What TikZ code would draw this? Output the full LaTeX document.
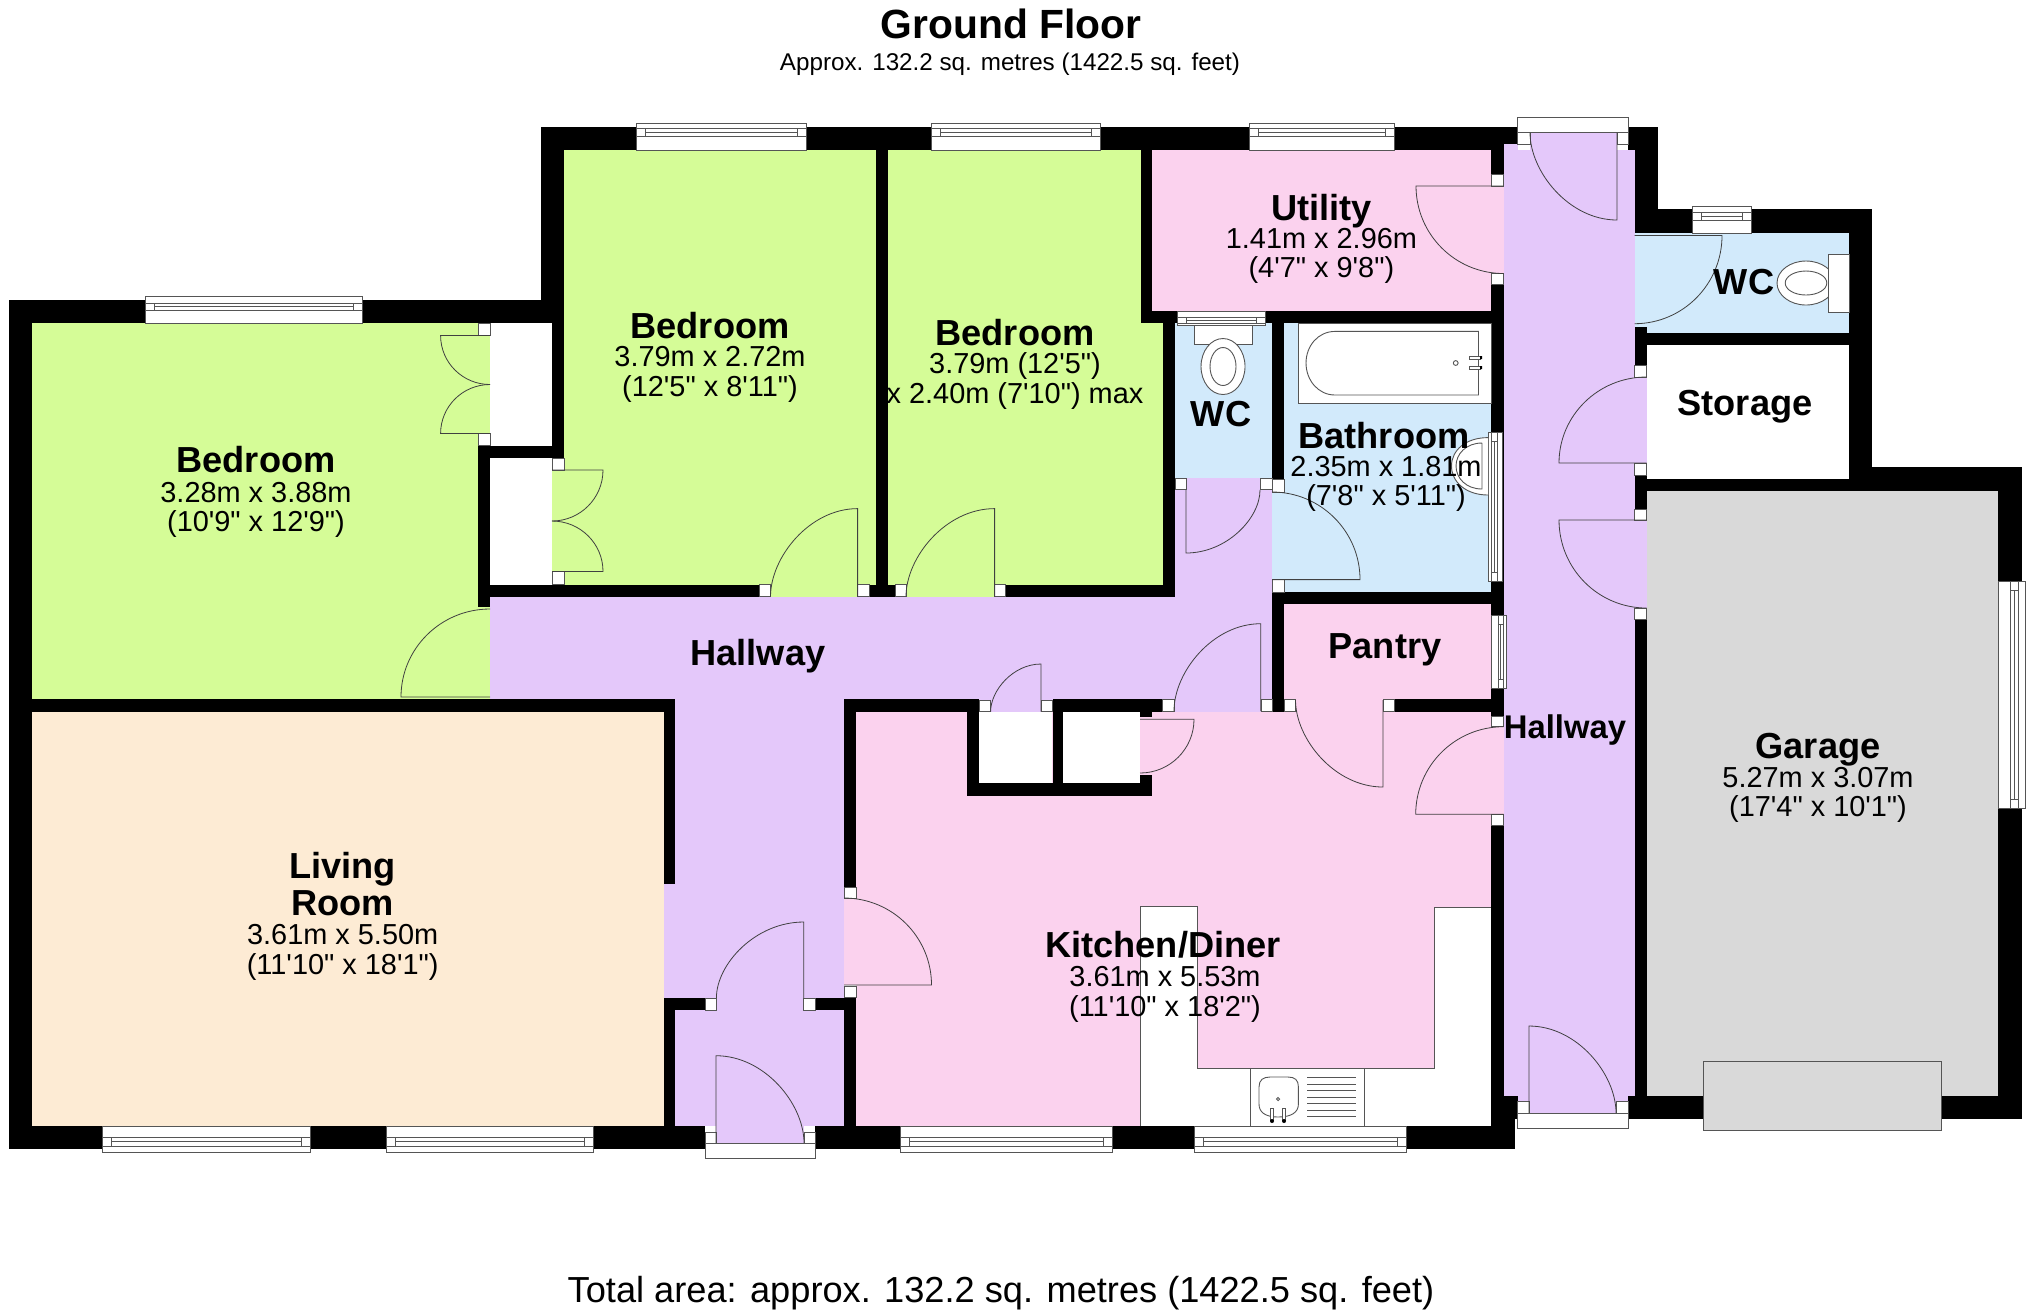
\documentclass[tikz,border=0pt]{standalone}
\usepackage{fontspec}
\newfontfamily\lib{Liberation Sans}
\definecolor{cGreen}{HTML}{D5FC97}
\definecolor{cCream}{HTML}{FDEBD4}
\definecolor{cHall}{HTML}{E4C8FA}
\definecolor{cPink}{HTML}{FBD2EE}
\definecolor{cBlue}{HTML}{D2EAFB}
\definecolor{cGrey}{HTML}{D9D9D9}
\definecolor{cLine}{HTML}{555555}
\tikzset{
  thinline/.style={draw=cLine,line width=0.45pt},
  door/.style={draw=black!75,line width=0.4pt},
  rname/.style={font=\lib\bfseries\fontsize{18.1}{20}\selectfont,anchor=base,inner sep=0pt,yshift=-1pt},
  rdim/.style={font=\lib\fontsize{14.45}{16}\selectfont,anchor=base,inner sep=0pt,yshift=-0.5pt},
}
% horizontal leaf: hinge (#1,#2), leaf end x #3, closed end y #4
\newcommand\doorH[4]{\draw[door] (#1,#2) -- (#3,#2) .. controls (#3,{#2+0.5523*(#4-#2)}) and ({#1+0.5523*(#3-#1)},#4) .. (#1,#4);}
% vertical leaf: hinge (#1,#2), leaf end y #3, closed end x #4
\newcommand\doorV[4]{\draw[door] (#1,#2) -- (#1,#3) .. controls ({#1+0.5523*(#4-#1)},#3) and (#4,{#2+0.4477*(#3-#2)}) .. (#4,#2);}
% window along x: x1,x2,ytop,ybot,band1,band2
\newcommand\winH[6]{\draw[thinline,fill=white] (#1,#3) rectangle (#2,#4);
  \draw[thinline] (#1,#5) -- (#2,#5) (#1,#6) -- (#2,#6)
    ({#1+9},#5) -- ({#1+9},#6) ({#2-9},#5) -- ({#2-9},#6)
    ({#1+9},{(#5+#6)/2}) -- ({#2-9},{(#5+#6)/2});}
% window along y: y1,y2,xleft,xright,band1,band2
\newcommand\winV[6]{\draw[thinline,fill=white] (#3,#1) rectangle (#4,#2);
  \draw[thinline] (#5,#1) -- (#5,#2) (#6,#1) -- (#6,#2)
    (#5,{#1+9}) -- (#6,{#1+9}) (#5,{#2-9}) -- (#6,{#2-9})
    ({(#5+#6)/2},{#1+9}) -- ({(#5+#6)/2},{#2-9});}
\begin{document}
\begin{tikzpicture}[x=0.5pt,y=-0.5pt]
\useasboundingbox (0,0) rectangle (2032,1314);
\fill[white] (0,0) rectangle (2032,1314);
% ---- floors
\foreach \a/\b/\c/\d in {32/323.3/490/699, 564/150/876/597, 552/458/564/585, 888/150/1141/323.3, 888/323/1163/597}
  \fill[cGreen] (\a,\b) rectangle (\c,\d);
\fill[cCream] (32,711.7) rectangle (664,1126);
\foreach \a/\b/\c/\d in {490/596.7/1272/699, 1175/477.5/1272/600, 664/699/844/1000, 675/1000/844/1126, 716/1126/804/1143,
    844/699/1272/711.7, 1503.5/150/1634.5/1096, 1518/1096/1628/1113, 1530/132.6/1617/150,
    1634/377/1646.5/463, 1634/520/1646.5/608}
  \fill[cHall] (\a,\b) rectangle (\c,\d);
\foreach \a/\b/\c/\d in {1152/150/1491.5/311.4, 1491/186/1503.5/273.5, 1284/604/1491.5/711.7, 856/711.7/1491.5/1126,
    844/898/856/985, 1491/726/1503.5/814, 1140/716/1152/775}
  \fill[cPink] (\a,\b) rectangle (\c,\d);
\foreach \a/\b/\c/\d in {1175/323/1272/477.5, 1272/492/1284/580, 1284/323/1491.5/592, 1634.5/233/1849/333}
  \fill[cBlue] (\a,\b) rectangle (\c,\d);
\fill[cGrey] (1646.5,490.6) rectangle (1998,1096);
% ---- kitchen units
\draw[thinline,fill=white] (1140,1126) -- (1140,906) -- (1197,906) -- (1197,1068) -- (1434,1068) -- (1434,907.7) -- (1491,907.7) -- (1491,1126) -- cycle;
\draw[thinline] (1250,1068) -- (1250,1126) (1364,1068) -- (1364,1126);
\draw[thinline] (1259,1087) .. controls (1259,1080) and (1263,1077) .. (1270,1077) -- (1288,1077) .. controls (1295,1077) and (1298.4,1080) .. (1298.4,1087) -- (1298.4,1104) .. controls (1298.4,1112) and (1292,1117) .. (1278,1117) .. controls (1265,1117) and (1259,1112) .. (1259,1104) -- cycle;
\draw[thinline] (1278,1099) circle (1.6);
\foreach \y in {1077,1084,1090.5,1097,1103.5,1110,1116} \draw[thinline] (1307,\y) -- (1356,\y);
\draw[thinline,fill=white] (1270.5,1108) rectangle (1273.5,1120);
\draw[thinline,fill=white] (1282.5,1108) rectangle (1285.5,1120);
\fill[black] (1272,1121) circle (2) (1284,1121) circle (2);
% ---- closets, store
\foreach \a/\b/\c/\d in {490/323.3/552/446, 490/458/552/585, 979/711.7/1052/783, 1063/711.7/1140/783, 1646.5/345/1849/479}
  \fill[white] (\a,\b) rectangle (\c,\d);
% ---- walls
\foreach \a/\b/\c/\d in {
  9/300/32/1149, 9/300/564/323.3, 541/127/564/323.3, 541/127/1517.6/150, 1628/127/1658/150,
  1634.5/127/1658/233, 1634.5/209/1872/233, 1849/209/1872/490.6, 1634.5/333/1849/345,
  1634.5/326.5/1646.5/365, 1634.5/475.5/1646.5/509, 1634.5/479/2022/490.6, 1849/467/2022/490.6,
  1998/467/2022/1119, 1628/1096/2022/1119, 1634.5/619/1646.5/1096,
  478/445/490/607, 478/445.7/564/458.4, 552/323/564/458.4, 478/584.5/759/596.7,
  869/584.5/895.5/596.7, 1005/584.5/1175/596.7, 876/150/888/585,
  1140.6/150/1151.8/323.3, 1140.6/311.4/1503.5/323.3, 1163/311.4/1175/596.7,
  1272/311/1284/479.6, 1272/592/1491.5/604, 1272/580/1284/711.7,
  1491.4/150/1503.5/174.7, 1491.4/284.5/1503.5/716, 1491.4/825/1503.5/1149,
  1491/1096/1518/1119, 1491/1119/1514.6/1149,
  9/699/675/711.7, 663.6/699/675/884, 663.6/998/705/1010, 815/998/856/1010, 663.6/998/675/1126,
  844/699/856/887, 844/997/856/1126, 9/1126/705/1149, 815/1126/1514.6/1149,
  844/699/979/711.7, 967/699/979/796, 1052.7/699/1063/783, 1052.7/699/1162/711.7, 967/783/1152/796,
  1140/710/1152/716.7, 1140/775/1152/796, 1394/699/1503.5/711.7}
  \fill[black] (\a,\b) rectangle (\c,\d);
\fill[cHall] (1503.5,144) rectangle (1517.6,150);
\fill[black] (1503.5,127) rectangle (1517.6,144);
\fill[cHall] (1530,132.6) rectangle (1617,150);
% ---- door posts
\foreach \a/\b/\c/\d in {
  478/323.7/490/335.5, 478/433.5/490/445, 552/458.4/564/470, 552/571.4/564/584.5,
  759/584.5/770.5/596.7, 857.6/584.5/869.6/596.7, 895.5/584.5/906/596.7, 994.6/584.5/1005/596.7,
  1175/478.8/1186/489.8, 1260/478.8/1272/489.8, 1272/479.6/1284/492, 1272/579.6/1284/592,
  1491.4/174.7/1503.5/186, 1491.4/273.5/1503.5/284.5, 1517.6/132.6/1530/144, 1617/132.6/1628/144,
  1634.5/365/1646.5/377, 1634.5/463/1646.5/475.5, 1634.5/509/1646.5/520, 1634.5/608/1646.5/619,
  1491.4/716/1503.5/726.7, 1491.4/814/1503.5/825,
  1383/699/1394/711.7, 1284/699/1295.5/711.7, 1261/699/1272/711.7, 1162/699/1174/711.7,
  979/700/990.6/711.7, 1041/700/1052.7/711.7, 844/887/856/898, 844/986/856/997,
  705/998/716.4/1010, 803.7/998/815/1010, 705/1132/716/1143, 804/1132/815/1143,
  1517.6/1101.7/1529/1113, 1616/1101.7/1628/1113}
  \draw[thinline,fill=white] (\a,\b) rectangle (\c,\d);
% thresholds and garage door
\draw[thinline,fill=white] (705,1143) rectangle (815,1158);
\draw[thinline,fill=white] (1517.6,1113) rectangle (1628,1128);
\draw[thinline,fill=white] (1517.6,117.5) rectangle (1628,132.6);
\draw[thinline,fill=cGrey] (1703.6,1061.7) rectangle (1941,1130);
% ---- windows
\winH{145.5}{362.5}{296}{323.3}{303}{310}
\winH{636}{806}{123}{150}{128.6}{136.7}
\winH{931}{1100}{123}{150}{128.6}{136.7}
\winH{1249}{1394}{123}{150}{128.6}{136.7}
\winH{1692.7}{1751}{206}{233}{212}{220}
\winH{1177}{1265}{311.4}{325.7}{317.5}{323}
\winH{102}{310}{1126}{1152}{1137}{1146.7}
\winH{386}{593}{1126}{1152}{1137}{1146.7}
\winH{900.5}{1112}{1126}{1152}{1137}{1146.7}
\winH{1194}{1406}{1126}{1152}{1137}{1146.7}
\winV{581}{808}{1998}{2025}{2010}{2018}
\winV{432.6}{581}{1488}{1502.7}{1491}{1497}
\winV{615.5}{688.6}{1491}{1506}{1498}{1503}
% ---- sanitary ware
\draw[thinline,fill=white] (1298.7,323.3) rectangle (1491.4,403);
\draw[thinline] (1335,331.4) -- (1478.5,331.4) -- (1478.5,395) -- (1335,395) .. controls (1318,395) and (1306,380) .. (1306,363) .. controls (1306,346) and (1318,331.4) .. (1335,331.4) -- cycle;
\draw[thinline] (1455.7,363) circle (2.4);
\draw[thinline,fill=white] (1469,356) rectangle (1480,359);
\draw[thinline,fill=white] (1469,366) rectangle (1480,369);
\fill[black] (1480,356) rectangle (1482,359) (1480,366) rectangle (1482,369);
\draw[thinline,fill=white] (1488,437.6) .. controls (1466,437.6) and (1451.5,450) .. (1451.5,466) .. controls (1451.5,482) and (1466,495) .. (1488,495);
\draw[thinline] (1482,443) .. controls (1466,443) and (1456,454) .. (1456,466) .. controls (1456,478) and (1466,489) .. (1482,489) -- (1482,443);
\draw[thinline,fill=white] (1194,325.7) rectangle (1252,344);
\draw[thinline,fill=white] (1223,366.5) ellipse (22 and 28);
\draw[thinline] (1223,366.5) ellipse (13 and 19);
\draw[thinline,fill=white] (1806,283) ellipse (29 and 22);
\draw[thinline] (1806,283) ellipse (20.8 and 12);
\draw[thinline,fill=white] (1828,254.7) rectangle (1849,312);
% ---- doors
\doorH{490}{335.5}{440.6}{384.5}
\doorH{490}{433.5}{440.6}{384.5}
\doorH{552}{470}{603}{521}
\doorH{552}{571.4}{603}{521}
\doorH{490}{697}{401}{609}
\doorV{857.6}{596.7}{508.6}{770.5}
\doorV{994.6}{596.7}{508.6}{906}
\doorV{1186}{490}{553}{1260}
\doorH{1272}{579.6}{1360}{492}
\doorH{1503.5}{186}{1416}{273.5}
\doorV{1617}{132.6}{220}{1530}
\doorH{1634.5}{235.5}{1722}{323.7}
\doorH{1646.5}{463}{1559}{377}
\doorH{1646.5}{520}{1559}{608}
\doorV{1260.7}{711}{623.7}{1174}
\doorV{1041}{711.7}{664}{990.6}
\doorV{1383}{700}{787}{1295.5}
\doorH{1140}{719.3}{1194}{773}
\doorH{1503.5}{814.3}{1415.7}{726.7}
\doorH{844}{985}{931.5}{898}
\doorV{803.7}{998}{922}{716.4}
\doorV{716}{1143}{1055.7}{804}
\doorV{1529}{1113}{1026}{1616}
% ---- text
\node (title) [font=\lib\bfseries\fontsize{20.4}{22}\selectfont,anchor=base,inner sep=0pt] at (1011,38) {Ground Floor};
\node (sub) [font=\lib\fontsize{12.1}{14}\selectfont,anchor=base,inner sep=0pt] at (1010,70) {Approx. 132.2 sq. metres (1422.5 sq. feet)};
\node (total) [font=\lib\fontsize{18.1}{20}\selectfont,anchor=base,inner sep=0pt] at (1001,1302) {Total area: approx. 132.2 sq. metres (1422.5 sq. feet)};
\node (b1n) [rname] at (256,470.6) {Bedroom};
\node (b1d) [rdim] at (256,501) {3.28m x 3.88m};
\node (b1f) [rdim] at (256,530) {(10'9" x 12'9")};
\node (b2n) [rname] at (710,336) {Bedroom};
\node (b2d) [rdim] at (710,365) {3.79m x 2.72m};
\node (b2f) [rdim] at (710,395) {(12'5" x 8'11")};
\node (b3n) [rname] at (1015,343.7) {Bedroom};
\node (b3d) [rdim] at (1015,372.6) {3.79m (12'5")};
\node (b3f) [rdim] at (1015,402) {x 2.40m (7'10") max};
\node (un) [rname] at (1321.4,218) {Utility};
\node (ud) [rdim] at (1321.4,247.8) {1.41m x 2.96m};
\node (uf) [rdim] at (1321.4,276.7) {(4'7" x 9'8")};
\node (wc1) [rname] at (1221,424.5) {WC};
\node (bn) [rname] at (1384,446) {Bathroom};
\node (bd) [rdim] at (1386,475.5) {2.35m x 1.81m};
\node (bf) [rdim] at (1386,504) {(7'8" x 5'11")};
\node (pn) [rname] at (1385,656) {Pantry};
\node (h1) [rname] at (758,663) {Hallway};
\node (h2) [rname,font=\lib\bfseries\fontsize{16.4}{18}\selectfont] at (1565,736) {Hallway};
\node (wc2) [rname] at (1744,292.6) {WC};
\node (st) [rname] at (1745,413.5) {Storage};
\node (ln1) [rname] at (342.7,876.7) {Living};
\node (ln2) [rname] at (342.7,913) {Room};
\node (ld) [rdim] at (342.7,943) {3.61m x 5.50m};
\node (lf) [rdim] at (342.7,973) {(11'10" x 18'1")};
\node (kn) [rname] at (1163,955.7) {Kitchen/Diner};
\node (kd) [rdim] at (1165,985.7) {3.61m x 5.53m};
\node (kf) [rdim] at (1165,1015) {(11'10" x 18'2")};
\node (gn) [rname] at (1818,756.7) {Garage};
\node (gd) [rdim] at (1818,786) {5.27m x 3.07m};
\node (gf) [rdim] at (1818,815) {(17'4" x 10'1")};
\end{tikzpicture}
\end{document}
